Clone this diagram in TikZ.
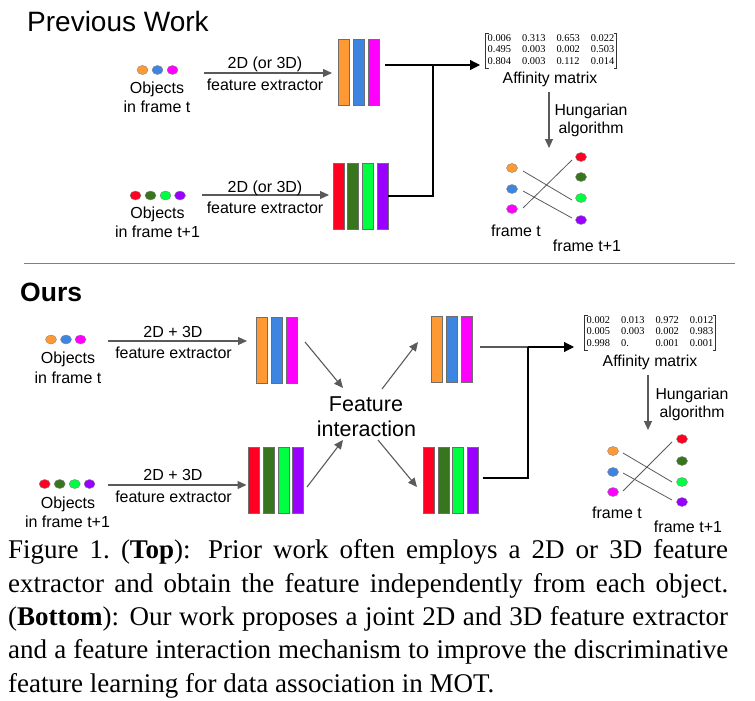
\documentclass[tikz,border=0pt]{standalone}
\usepackage{fontspec}
\setmainfont{Liberation Serif}
\newfontfamily\arialf{Liberation Sans}
\usetikzlibrary{arrows.meta,shapes.geometric,calc}
\definecolor{cor}{RGB}{255,153,51}
\definecolor{cbl}{RGB}{61,133,224}
\definecolor{cmg}{RGB}{255,0,255}
\definecolor{crd}{RGB}{255,0,34}
\definecolor{cdg}{RGB}{56,118,29}
\definecolor{cgr}{RGB}{0,255,64}
\definecolor{cpu}{RGB}{153,0,255}
\definecolor{arrgray}{RGB}{90,90,90}
\definecolor{bargray}{RGB}{110,110,110}
\newcommand{\affmat}[1]{{\fontsize{10.4}{11.5}\selectfont\setlength\tabcolsep{5.5pt}\renewcommand\arraystretch{1}\begin{tabular}{@{\hspace{2pt}}llll@{\hspace{2pt}}}#1\end{tabular}}}
\tikzset{
  fbar/.style={draw=bargray, line width=0.9pt, minimum width=11pt, minimum height=66pt, inner sep=0pt, fill=#1},
  odot/.style={ellipse, draw=gray, line width=0.4pt, minimum width=11pt, minimum height=9pt, inner sep=0pt, fill=#1},
  lbl/.style={font=\arialf\fontsize{16}{19}\selectfont, anchor=base, inner sep=0pt},
  hlbl/.style={font=\arialf\fontsize{15.8}{19}\selectfont, anchor=base, inner sep=0pt},
  flbl/.style={font=\arialf\fontsize{21.5}{25}\selectfont, anchor=base, inner sep=0pt},
  garr/.style={draw=arrgray, line width=1.1pt, -{Triangle[length=9pt,width=8pt]}},
  karr/.style={draw=black, line width=1.1pt, -{Triangle[length=10pt,width=10pt]}},
  kline/.style={draw=black, line width=1.1pt},
  gline/.style={draw=arrgray, line width=1.1pt},
  bline/.style={draw=arrgray, line width=0.8pt},
  brk/.style={draw=black!80, line width=0.6pt},
  mtx/.style={inner sep=0pt},
  capl/.style={anchor=base west, inner sep=0pt, font=\fontsize{27}{33.5}\selectfont}
}
\begin{document}
\begin{tikzpicture}[x=1pt,y=-1pt]
\useasboundingbox (0,0) rectangle (755,701);
% ================= Previous Work =================
\node[anchor=base west, inner sep=0pt, font=\arialf\fontsize{28}{31}\selectfont] (tprev) at (27,32) {Previous Work};
% objects frame t
\node[odot=cor] (ta1) at (142.5,70) {};
\node[odot=cbl] (ta2) at (157.5,70) {};
\node[odot=cmg] (ta3) at (172.5,70) {};
\node[lbl] (tao) at (157,93) {Objects};
\node[lbl] (taf) at (157,112) {in frame t};
\coordinate (tas) at (204,73);
\coordinate (tae) at (332,73);
\draw[garr] (tas) -- (tae);
\node[lbl] (tax1) at (265,69) {2D (or 3D)};
\node[lbl] (tax2) at (265,90) {feature extractor};
\node[fbar=cor] (tb1) at (343.5,72) {};
\node[fbar=cbl] (tb2) at (358.5,72) {};
\node[fbar=cmg] (tb3) at (373.5,72) {};
% objects frame t+1
\node[odot=crd] (tc1) at (135.5,195.5) {};
\node[odot=cdg] (tc2) at (150.5,195.5) {};
\node[odot=cgr] (tc3) at (165.5,195.5) {};
\node[odot=cpu] (tc4) at (180,195.5) {};
\node[lbl] (tco) at (157.5,218) {Objects};
\node[lbl] (tcf) at (157.5,237) {in frame t+1};
\coordinate (tcs) at (202,195);
\coordinate (tce) at (329,195);
\draw[garr] (tcs) -- (tce);
\node[lbl] (tcx1) at (265,192) {2D (or 3D)};
\node[lbl] (tcx2) at (265,213) {feature extractor};
\node[fbar=crd] (td1) at (338.5,196) {};
\node[fbar=cdg] (td2) at (352.5,196) {};
\node[fbar=cgr] (td3) at (367.5,196) {};
\node[fbar=cpu] (td4) at (382.5,196) {};
% connectors to matrix
\coordinate (tls) at (385,65);
\coordinate (tj) at (433,65);
\coordinate (tmt) at (480,65);
\draw[karr] (tls) -- (tmt);
\draw[kline] (td4.east) -| (tj);
% affinity matrix
\node[mtx] (tm) at (551,50.5) {\affmat{0.006 & 0.313 & 0.653 & 0.022\\ 0.495 & 0.003 & 0.002 & 0.503\\ 0.804 & 0.003 & 0.112 & 0.014}};
\draw[brk] ([xshift=3pt]tm.north west) -- (tm.north west) -- (tm.south west) -- ([xshift=3pt]tm.south west);
\draw[brk] ([xshift=-3pt]tm.north east) -- (tm.north east) -- (tm.south east) -- ([xshift=-3pt]tm.south east);
\node[hlbl] (tml) at (550,84) {Affinity matrix};
\coordinate (ths) at (549,92);
\coordinate (the) at (549,148);
\draw[garr] (ths) -- (the);
\node[hlbl] (th1) at (591,115) {Hungarian};
\node[hlbl] (th2) at (591,133) {algorithm};
% bipartite
\node[odot=cor] (tp1) at (512,168) {};
\node[odot=cbl] (tp2) at (512,189) {};
\node[odot=cmg] (tp3) at (512,209) {};
\node[odot=crd] (tq1) at (581,157) {};
\node[odot=cdg] (tq2) at (581,177) {};
\node[odot=cgr] (tq3) at (581,198) {};
\node[odot=cpu] (tq4) at (581,220) {};
\draw[bline] ($(tp1)+(11,3)$) -- ($(tq3)+(-9,2)$);
\draw[bline] ($(tp2)+(11,2)$) -- ($(tq4)+(-9,-2)$);
\draw[bline] ($(tp3)+(11,-1)$) -- ($(tq1)+(-9,3)$);
\node[lbl] (tft) at (516,236) {frame t};
\node[lbl] (tft1) at (587,251) {frame t+1};
% separator
\draw[draw=gray, line width=1.4pt] (24,263.5) -- (735,263.5);
% ================= Ours =================
\node[anchor=base west, inner sep=0pt, font=\arialf\bfseries\fontsize{26.5}{30}\selectfont] (ours) at (20,301) {Ours};
\node[odot=cor] (ba1) at (51,339.5) {};
\node[odot=cbl] (ba2) at (66,339.5) {};
\node[odot=cmg] (ba3) at (80.5,339.5) {};
\node[lbl] (bao) at (68,363) {Objects};
\node[lbl] (baf) at (68,383) {in frame t};
\coordinate (bas) at (108,341);
\coordinate (bae) at (247,341);
\draw[garr] (bas) -- (bae);
\node[lbl] (bax1) at (173,337) {2D + 3D};
\node[lbl] (bax2) at (173.5,358) {feature extractor};
\node[fbar=cor] (bb1) at (261.5,350) {};
\node[fbar=cbl] (bb2) at (276.5,350) {};
\node[fbar=cmg] (bb3) at (291.5,350) {};
\node[odot=crd] (bc1) at (44.7,484) {};
\node[odot=cdg] (bc2) at (59.7,484) {};
\node[odot=cgr] (bc3) at (74.7,484) {};
\node[odot=cpu] (bc4) at (89.5,484) {};
\node[lbl] (bco) at (68,508) {Objects};
\node[lbl] (bcf) at (67.5,527) {in frame t+1};
\coordinate (bcs) at (108,485);
\coordinate (bce) at (246.5,485);
\draw[garr] (bcs) -- (bce);
\node[lbl] (bcx1) at (173,480) {2D + 3D};
\node[lbl] (bcx2) at (173.5,502) {feature extractor};
\node[fbar=crd] (bd1) at (253.5,480.5) {};
\node[fbar=cdg] (bd2) at (268.5,480.5) {};
\node[fbar=cgr] (bd3) at (283.5,480.5) {};
\node[fbar=cpu] (bd4) at (297.5,480.5) {};
% feature interaction
\node[flbl] (fi1) at (366,411) {Feature};
\node[flbl] (fi2) at (366.5,436) {interaction};
\coordinate (fa1s) at (305,342);
\coordinate (fa1e) at (343,388);
\coordinate (fa2s) at (307,487);
\coordinate (fa2e) at (343,440);
\coordinate (fa3s) at (382,389);
\coordinate (fa3e) at (418,342);
\coordinate (fa4s) at (378,440);
\coordinate (fa4e) at (417,487);
\draw[garr] (fa1s) -- (fa1e);
\draw[garr] (fa2s) -- (fa2e);
\draw[garr] (fa3s) -- (fa3e);
\draw[garr] (fa4s) -- (fa4e);
\node[fbar=cor] (be1) at (436.5,349.5) {};
\node[fbar=cbl] (be2) at (451.5,349.5) {};
\node[fbar=cmg] (be3) at (466.5,349.5) {};
\node[fbar=crd] (bf1) at (428.5,480.5) {};
\node[fbar=cdg] (bf2) at (443.5,480.5) {};
\node[fbar=cgr] (bf3) at (457.5,480.5) {};
\node[fbar=cpu] (bf4) at (472.5,480.5) {};
% connectors to matrix
\coordinate (bls) at (480,347);
\coordinate (bj) at (528,347);
\coordinate (bmt) at (574,347);
\coordinate (bls2) at (483,478);
\draw[gline] (bls) -- (bj);
\draw[karr] (bj) -- (bmt);
\draw[kline] (bls2) -| (bj);
% matrix
\node[mtx] (bm) at (650,332.5) {\affmat{0.002 & 0.013 & 0.972 & 0.012\\ 0.005 & 0.003 & 0.002 & 0.983\\ 0.998 & 0. & 0.001 & 0.001}};
\draw[brk] ([xshift=3pt]bm.north west) -- (bm.north west) -- (bm.south west) -- ([xshift=3pt]bm.south west);
\draw[brk] ([xshift=-3pt]bm.north east) -- (bm.north east) -- (bm.south east) -- ([xshift=-3pt]bm.south east);
\node[hlbl] (bml) at (650,366) {Affinity matrix};
\coordinate (bhs) at (648,375);
\coordinate (bhe) at (648,430);
\draw[garr] (bhs) -- (bhe);
\node[hlbl] (bh1) at (692,399) {Hungarian};
\node[hlbl] (bh2) at (692,417) {algorithm};
\node[odot=cor] (bp1) at (613,451) {};
\node[odot=cbl] (bp2) at (613,472) {};
\node[odot=cmg] (bp3) at (613,492) {};
\node[odot=crd] (bq1) at (682,439) {};
\node[odot=cdg] (bq2) at (682,461) {};
\node[odot=cgr] (bq3) at (682,482) {};
\node[odot=cpu] (bq4) at (682,502) {};
\draw[bline] ($(bp1)+(10,2)$) -- ($(bq3)+(-10,0)$);
\draw[bline] ($(bp2)+(10,1)$) -- ($(bq4)+(-10,-2)$);
\draw[bline] ($(bp3)+(10,-1)$) -- ($(bq1)+(-10,3)$);
\node[lbl] (bft) at (617,518) {frame t};
\node[lbl] (bft1) at (688,532) {frame t+1};
% ================= Caption =================
\node[capl] (cap1) at (8,558) {\makebox[720pt][s]{Figure 1.\ (\textbf{Top}): Prior work often employs a 2D or 3D feature}};
\node[capl] (cap2) at (8,592) {\makebox[720pt][s]{extractor and obtain the feature independently from each object.}};
\node[capl] (cap3) at (8,625) {\makebox[720pt][s]{(\textbf{Bottom}): Our work proposes a joint 2D and 3D feature extractor}};
\node[capl] (cap4) at (8,658) {\makebox[720pt][s]{and a feature interaction mechanism to improve the discriminative}};
\node[capl] (cap5) at (8,692) {feature learning for data association in MOT.};
\end{tikzpicture}
\end{document}
